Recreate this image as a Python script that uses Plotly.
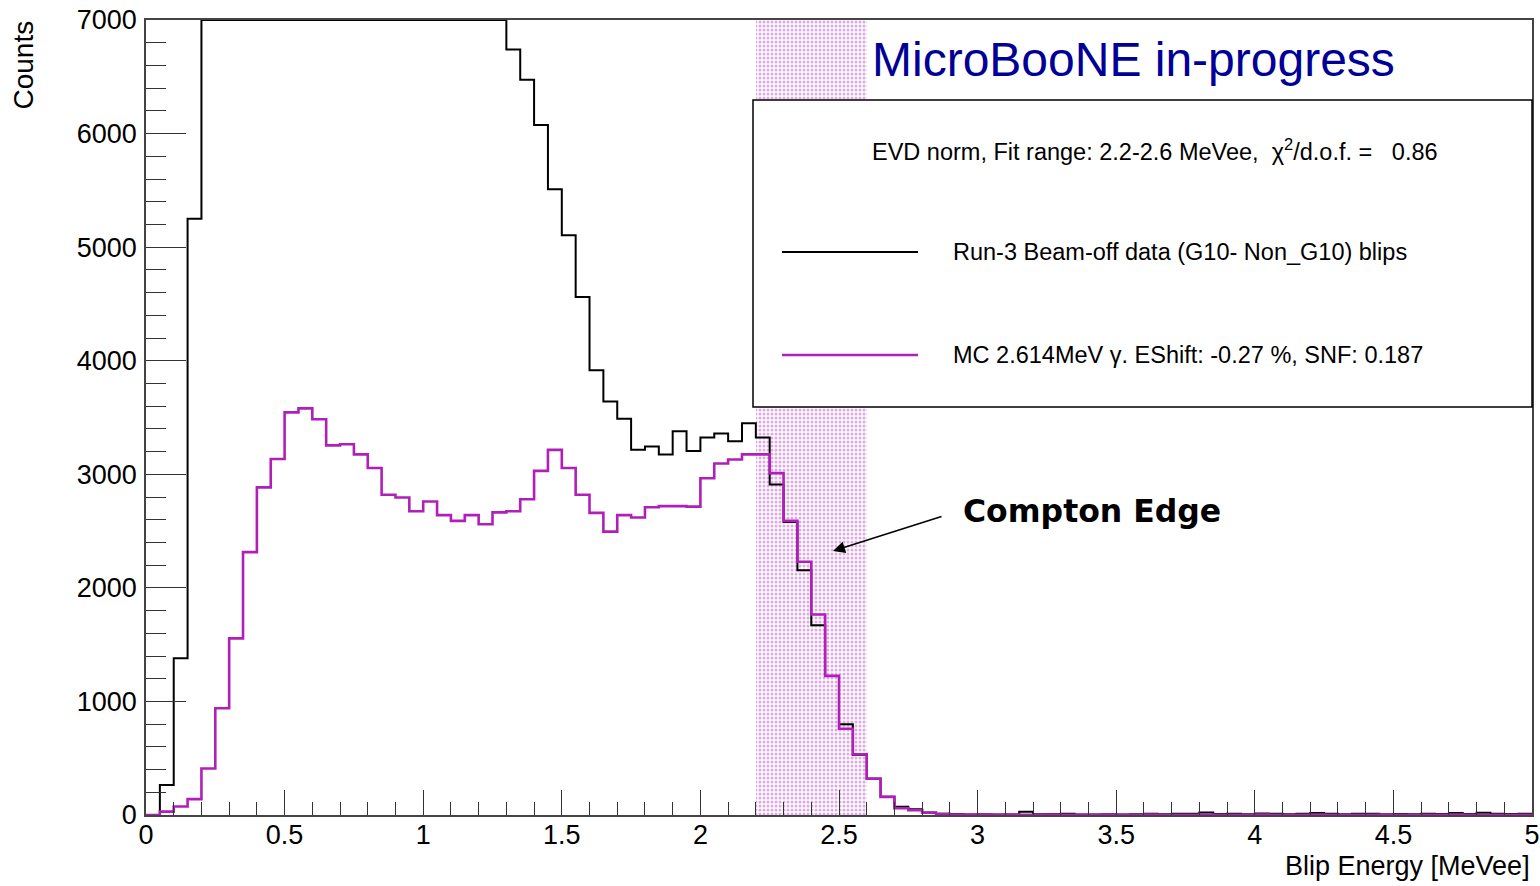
import numpy as np
import plotly.graph_objects as go

# ---- histogram binning (MeVee) ----
bin_width = 0.05
n_bins = 100
edges = np.round(np.arange(n_bins + 1) * bin_width, 4)

# Run-3 beam-off data (G10 - Non_G10) blip counts per bin
beam_off = [
    0, 264, 1380, 5250,
    7000, 7000, 7000, 7000, 7000, 7000, 7000, 7000, 7000, 7000, 7000,
    7000, 7000, 7000, 7000, 7000, 7000, 7000, 7000, 7000, 7000, 7000,
    6740, 6475, 6075, 5510, 5105, 4560, 3915, 3640, 3490, 3215,
    3245, 3175, 3380, 3205, 3325, 3360, 3290, 3450, 3325, 2910,
    2580, 2155, 1670, 1225, 800, 530, 320, 160, 72, 50,
    22, 12, 8, 5, 6, 4, 5, 28, 6, 8,
    10, 4, 5, 6, 4, 6, 12, 6, 12, 10,
    22, 8, 12, 6, 14, 10, 6, 10, 18, 12,
    6, 12, 12, 6, 8, 6, 12, 8, 18, 8,
    20, 10, 8, 12,
]

# MC 2.614 MeV gamma prediction per bin
mc_gamma = [
    0, 30, 75, 140, 410, 940, 1555, 2315, 2885, 3135,
    3545, 3580, 3485, 3255, 3265, 3175, 3055, 2820, 2795, 2675,
    2760, 2640, 2590, 2640, 2560, 2665, 2675, 2780, 3030, 3215,
    3055, 2820, 2660, 2495, 2640, 2620, 2710, 2720, 2720, 2715,
    2965, 3095, 3130, 3175, 3175, 3010, 2590, 2230, 1765, 1225,
    760, 535, 320, 160, 60, 42, 20, 8, 4, 3,
    3, 2, 3, 2, 2, 3, 2, 2, 2, 3,
    2, 2, 3, 2, 2, 2, 3, 2, 2, 2,
    3, 2, 2, 2, 3, 2, 2, 2, 2, 3,
    2, 2, 2, 2, 3, 2, 2, 2, 2, 2,
]

fit_lo, fit_hi = 2.2, 2.6
chi2_ndf = 0.86
e_shift = -0.27
snf = 0.187
y_max = 7000

# ---- canvas geometry ----
W, H = 1540, 886
L, R, T, B = 146, 8, 20, 71
PW, PH = W - L - R, H - T - B


def px_x(px):
    return (px - L) / PW


def px_y(py):
    return (H - B - py) / PH


SANS = "Liberation Sans, Arial, Helvetica, sans-serif"
DARK_BLUE = "#000096"
MAGENTA = "#b020b8"


def step_xy(values):
    xs = list(edges)
    ys = list(values) + [values[-1]]
    return xs, ys


fig = go.Figure()

# fit-range band with a dotted fill
fig.add_trace(go.Bar(
    x=[(fit_lo + fit_hi) / 2], y=[y_max], width=[fit_hi - fit_lo],
    marker=dict(color="white", line=dict(width=0),
                pattern=dict(shape=".", fgcolor="#c050c8", bgcolor="white",
                             size=4, solidity=0.45)),
    hoverinfo="skip", showlegend=False,
))

bx, by = step_xy(beam_off)
fig.add_trace(go.Scatter(x=bx, y=by, mode="lines", line_shape="hv",
                         line=dict(color="black", width=2), showlegend=False))
mx, my = step_xy(mc_gamma)
fig.add_trace(go.Scatter(x=mx, y=my, mode="lines", line_shape="hv",
                         line=dict(color=MAGENTA, width=2.6), showlegend=False))

tick_font = dict(family=SANS, size=27, color="black")

fig.update_xaxes(
    range=[0, 5], showgrid=False, zeroline=False, automargin=False,
    showline=True, mirror=True, linecolor="#444", linewidth=1.5,
    ticks="inside", ticklen=25, tickwidth=1.3, tickcolor="#333",
    tick0=0, dtick=0.5,
    minor=dict(ticks="inside", ticklen=13, tickwidth=1.3, tickcolor="#333", dtick=0.1),
    tickfont=tick_font, ticklabelstandoff=-5,
)
fig.update_yaxes(
    range=[0, y_max], showgrid=False, zeroline=False, automargin=False,
    showline=True, mirror=True, linecolor="#444", linewidth=1.5,
    ticks="inside", ticklen=40, tickwidth=1.3, tickcolor="#333",
    tick0=0, dtick=1000, tickformat="d",
    minor=dict(ticks="inside", ticklen=20, tickwidth=1.3, tickcolor="#333", dtick=200),
    tickfont=tick_font, ticklabelstandoff=2,
)

# legend box
lx0, lx1, ly0, ly1 = 753, 1532, 100, 407
shapes = [
    dict(type="rect", xref="paper", yref="paper", layer="above",
         x0=px_x(lx0), x1=px_x(lx1), y0=px_y(ly1), y1=px_y(ly0),
         fillcolor="white", line=dict(color="black", width=1.5)),
    dict(type="line", xref="paper", yref="paper", layer="above",
         x0=px_x(782), x1=px_x(918), y0=px_y(252), y1=px_y(252),
         line=dict(color="black", width=2)),
    dict(type="line", xref="paper", yref="paper", layer="above",
         x0=px_x(782), x1=px_x(918), y0=px_y(355), y1=px_y(355),
         line=dict(color=MAGENTA, width=2.6)),
]

nb = "\u00a0"
legend_font = dict(family=SANS, size=23.5, color="black")
annotations = [
    dict(text="MicroBooNE in-progress", xref="paper", yref="paper",
         x=px_x(870), y=px_y(60), xanchor="left", yanchor="middle", showarrow=False,
         font=dict(family=SANS, size=48, color=DARK_BLUE)),
    dict(text=f"EVD norm, Fit range: {fit_lo}-{fit_hi} MeVee,{nb}{nb}χ<sup>2</sup>/d.o.f. ={nb}{nb}{nb}{chi2_ndf}",
         xref="paper", yref="paper", x=px_x(870), y=px_y(150),
         xanchor="left", yanchor="middle", showarrow=False, font=legend_font),
    dict(text="Run-3 Beam-off data (G10- Non_G10) blips",
         xref="paper", yref="paper", x=px_x(951), y=px_y(252),
         xanchor="left", yanchor="middle", showarrow=False, font=legend_font),
    dict(text=f"MC 2.614MeV γ. EShift: {e_shift} %, SNF: {snf}",
         xref="paper", yref="paper", x=px_x(951), y=px_y(355),
         xanchor="left", yanchor="middle", showarrow=False, font=legend_font),
    dict(text="Blip Energy [MeVee]", xref="paper", yref="paper",
         x=1, y=px_y(866), xanchor="right", yanchor="middle", showarrow=False,
         font=dict(family=SANS, size=27, color="black")),
    dict(text="Counts", xref="paper", yref="paper", textangle=-90,
         x=px_x(23), y=px_y(18), xanchor="center", yanchor="top", showarrow=False,
         font=dict(family=SANS, size=28, color="black")),
    # Compton edge marker
    dict(text="", xref="paper", yref="paper", x=px_x(833), y=px_y(551),
         ax=110, ay=-35, showarrow=True, arrowhead=2, arrowsize=1.6,
         arrowwidth=1.5, arrowcolor="black"),
    dict(text="<b>Compton Edge</b>", xref="paper", yref="paper",
         x=px_x(961), y=px_y(511), xanchor="left", yanchor="middle", showarrow=False,
         font=dict(family="DejaVu Sans", size=31.5, color="black")),
]

fig.update_layout(
    width=W, height=H,
    margin=dict(l=L, r=R, t=T, b=B, pad=0, autoexpand=False),
    paper_bgcolor="white", plot_bgcolor="white",
    shapes=shapes, annotations=annotations,
    showlegend=False, bargap=0,
)

fig.write_html("out.html")
